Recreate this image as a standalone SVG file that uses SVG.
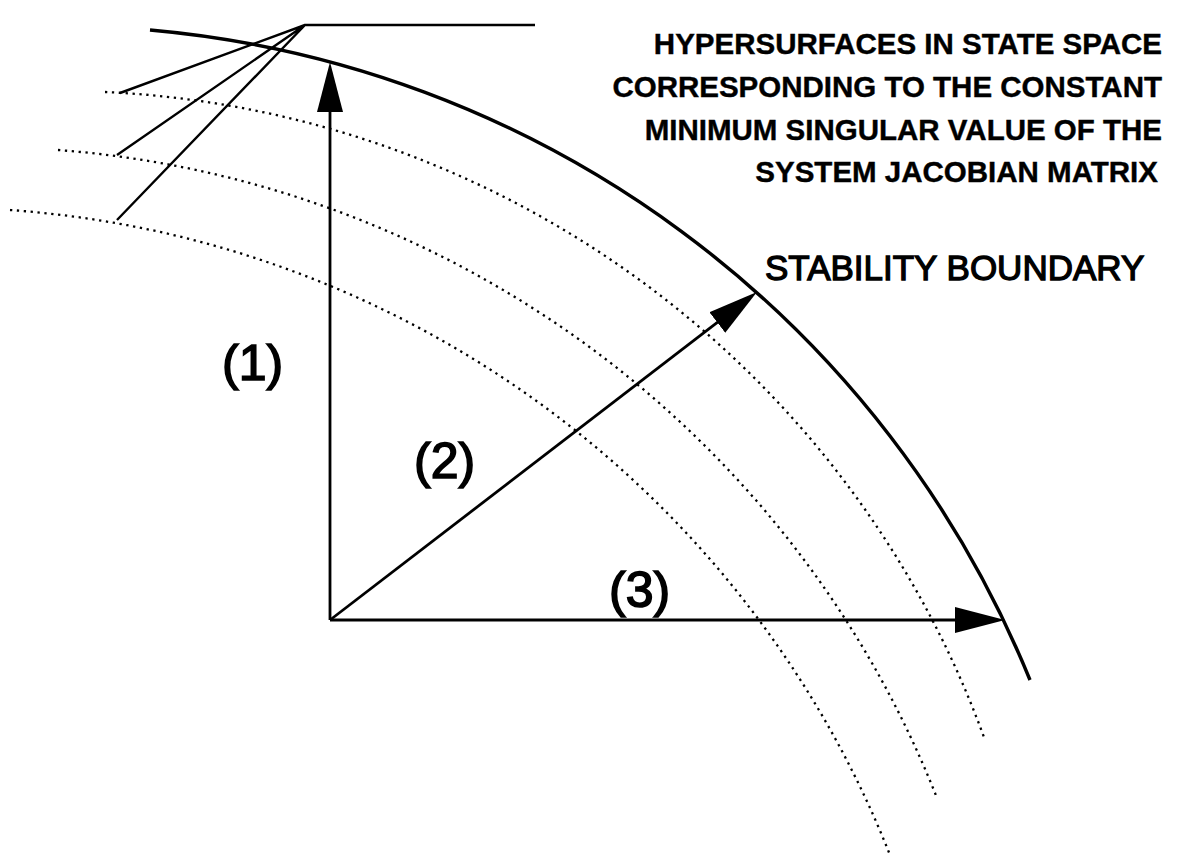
<svg xmlns="http://www.w3.org/2000/svg" width="1185" height="856" viewBox="0 0 1185 856">
<style>
.bnd{fill:none;stroke:#000;stroke-width:3.4}
.dot{fill:none;stroke:#000;stroke-width:2.3;stroke-dasharray:2.3 4.6}
.ax{fill:none;stroke:#000;stroke-width:2.8}
.ld{fill:none;stroke:#000;stroke-width:2.4;stroke-linejoin:round}
.t{font-family:"Liberation Sans",Arial,sans-serif;fill:#000}
.hs{font-size:29.5px;font-weight:bold;text-anchor:end;stroke:#000;stroke-width:0.4}
.sb{font-size:35px;stroke:#000;stroke-width:1.3}
.lb{font-size:50px;stroke:#000;stroke-width:1.6}
</style>
<defs>
<marker id="ah" markerUnits="userSpaceOnUse" markerWidth="50" markerHeight="26" viewBox="0 0 50 26" refX="30" refY="13" orient="auto">
<path d="M0,0 L50,13 L0,26 Z" fill="#000"/>
</marker>
</defs>
<g id="curves">
<path id="boundary" class="bnd" d="M150,30 A1050,1050 0 0 1 1030,680"/>
<path id="surface1" class="dot" d="M105,92 A984,984 0 0 1 985,740"/>
<path id="surface2" class="dot" d="M58,150 A1029,1029 0 0 1 937,798"/>
<path id="surface3" class="dot" d="M10,210 A1025,1025 0 0 1 890,855"/>
</g>
<g id="connectors">
<line class="ax" x1="330" y1="620" x2="330" y2="82" marker-end="url(#ah)"/>
<line class="ax" x1="330" y1="620" x2="741.1" y2="304.2" marker-end="url(#ah)"/>
<line class="ax" x1="330" y1="620" x2="985" y2="620" marker-end="url(#ah)"/>
<path class="ld" d="M535,25 L305,25 L120,93 M305,25 L117,155 M305,25 L117,220"/>
</g>
<g id="label-hypersurfaces">
<text class="t hs" x="1162" y="54">HYPERSURFACES IN STATE SPACE</text>
<text class="t hs" x="1162" y="97">CORRESPONDING TO THE CONSTANT</text>
<text class="t hs" x="1162" y="140">MINIMUM SINGULAR VALUE OF THE</text>
<text class="t hs" x="1158" y="182">SYSTEM JACOBIAN MATRIX</text>
</g>
<g id="label-stability">
<text class="t sb" x="765" y="280">STABILITY BOUNDARY</text>
</g>
<g id="label-1"><text class="t lb" x="222" y="380">(1)</text></g>
<g id="label-2"><text class="t lb" x="414" y="478">(2)</text></g>
<g id="label-3"><text class="t lb" x="609" y="607">(3)</text></g>
</svg>
